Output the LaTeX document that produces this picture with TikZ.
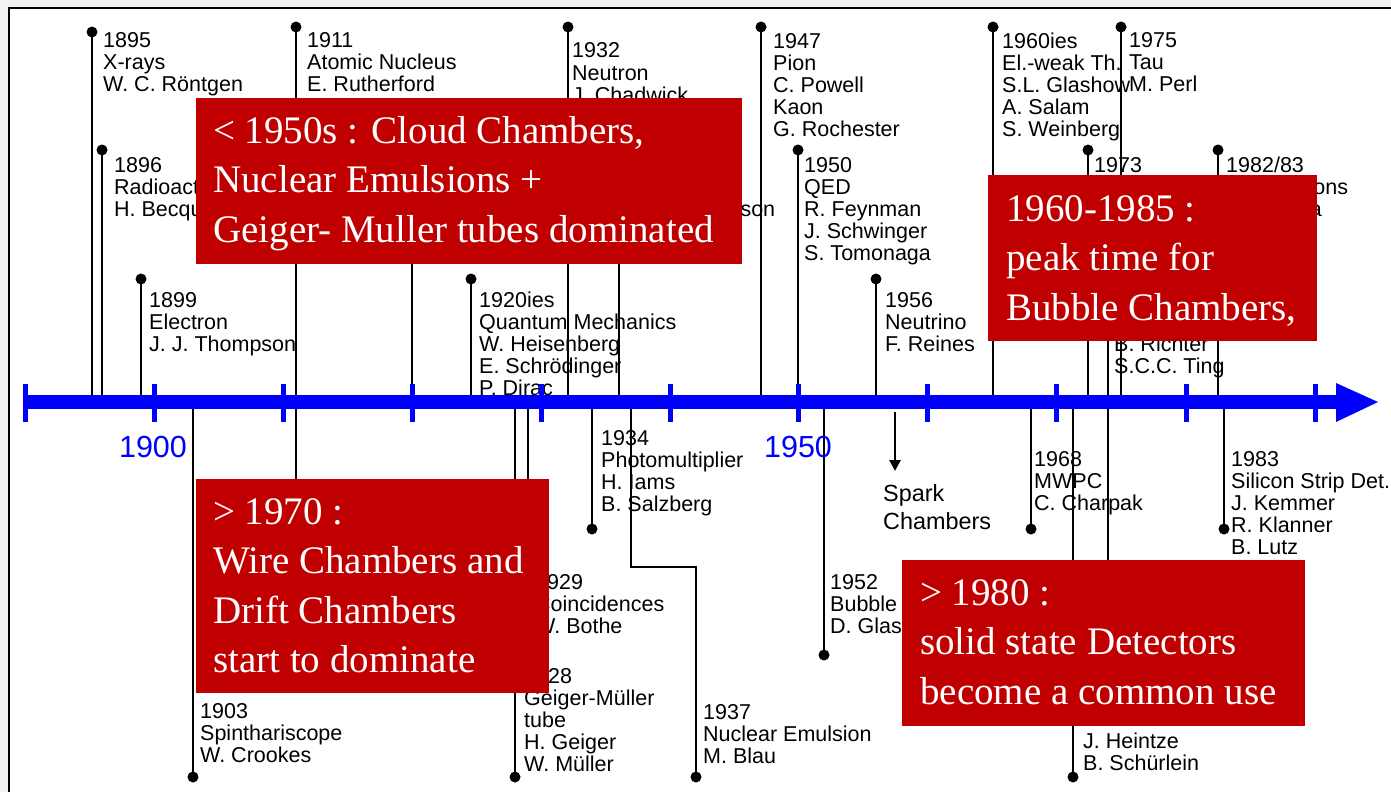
\documentclass[tikz,border=0pt]{standalone}
\usepackage{fontspec}
\setmainfont{Liberation Sans}
\newfontfamily\boxserif{Liberation Serif}
\usetikzlibrary{arrows.meta}
\definecolor{boxred}{RGB}{192,0,0}
\definecolor{axisblue}{RGB}{0,0,255}
\definecolor{margingray}{RGB}{242,242,242}

% text nodes are placed at the baseline of their last line
\tikzset{
  evt/.style={font=\fontsize{21.5}{22}\selectfont, align=left, inner sep=0pt, anchor=base west},
  sparktxt/.style={font=\fontsize{23.4}{28}\selectfont, align=left, inner sep=0pt, anchor=base west},
  yeartxt/.style={font=\fontsize{30.5}{32}\selectfont, text=axisblue, inner sep=0pt, anchor=base},
  boxtxt/.style={font=\boxserif\fontsize{39}{49.5}\selectfont, text=white, align=left, inner sep=0pt, anchor=base west},
  stem/.style={line width=2.6pt},
  dot/.style={circle, fill=black, inner sep=0pt, minimum size=11pt},
  tick/.style={axisblue, line width=5pt},
  redbox/.style={fill=boxred}
}

\begin{document}
\begin{tikzpicture}[x=1pt,y=-1pt]
  \useasboundingbox (0,0) rectangle (1391,792);
  \fill[margingray] (0,0) rectangle (1391,792);
  \fill[white] (9,8) rectangle (1391,792);
  \draw[line width=2.2pt] (9,792) -- (9,8) -- (1391,8);

  % events above the axis
  \node[dot] (d1895) at (92,32) {};    \coordinate (s1895) at (92,402);   \draw[stem] (s1895) -- (d1895.center);
  \node[dot] (d1896) at (102,150) {};  \coordinate (s1896) at (102,402);  \draw[stem] (s1896) -- (d1896.center);
  \node[dot] (d1899) at (141,279) {};  \coordinate (s1899) at (141,402);  \draw[stem] (s1899) -- (d1899.center);
  \node[dot] (d1911) at (296,27) {};   \coordinate (s1911) at (296,402);  \draw[stem] (s1911) -- (d1911.center);
  \node[dot] (d1914) at (412,150) {};  \coordinate (s1914) at (412,402);  \draw[stem] (s1914) -- (d1914.center);
  \node[dot] (d1920) at (471,279) {};  \coordinate (s1920) at (471,402);  \draw[stem] (s1920) -- (d1920.center);
  \node[dot] (d1932) at (568,27) {};   \coordinate (s1932) at (568,402);  \draw[stem] (s1932) -- (d1932.center);
  \node[dot] (d1936) at (619,150) {};  \coordinate (s1936) at (619,402);  \draw[stem] (s1936) -- (d1936.center);
  \node[dot] (d1947) at (761,27) {};   \coordinate (s1947) at (761,402);  \draw[stem] (s1947) -- (d1947.center);
  \node[dot] (d1950) at (798,150) {};  \coordinate (s1950) at (798,402);  \draw[stem] (s1950) -- (d1950.center);
  \node[dot] (d1956) at (876,279) {};  \coordinate (s1956) at (876,402);  \draw[stem] (s1956) -- (d1956.center);
  \node[dot] (d1960) at (993,27) {};   \coordinate (s1960) at (993,402);  \draw[stem] (s1960) -- (d1960.center);
  \node[dot] (d1973) at (1088,150) {}; \coordinate (s1973) at (1088,402); \draw[stem] (s1973) -- (d1973.center);
  \node[dot] (d1974) at (1108,279) {}; \coordinate (s1974) at (1108,402); \draw[stem] (s1974) -- (d1974.center);
  \node[dot] (d1975) at (1121,27) {};  \coordinate (s1975) at (1121,402); \draw[stem] (s1975) -- (d1975.center);
  \node[dot] (d1982) at (1218,150) {}; \coordinate (s1982) at (1218,402); \draw[stem] (s1982) -- (d1982.center);

  \node[evt] (t1895) at (103,92) {1895\\X-rays\\W. C. Röntgen};
  \node[evt] (t1896) at (114,216) {1896\\Radioactivity\\H. Becquerel};
  \node[evt] (t1899) at (149,351) {1899\\Electron\\J. J. Thompson};
  \node[evt] (t1911) at (307,92) {1911\\Atomic Nucleus\\E. Rutherford};
  \node[evt] (t1920) at (479,395) {1920ies\\Quantum Mechanics\\W. Heisenberg\\E. Schrödinger\\P. Dirac};
  \node[evt] (t1932) at (572,102) {1932\\Neutron\\J. Chadwick};
  \node[evt] (t1936) at (628,216) {1936\\Muon\\C. D. Anderson};
  \node[evt] (t1947) at (773,136) {1947\\Pion\\C. Powell\\Kaon\\G. Rochester};
  \node[evt] (t1950) at (804,260) {1950\\QED\\R. Feynman\\J. Schwinger\\S. Tomonaga};
  \node[evt] (t1956) at (885,351) {1956\\Neutrino\\F. Reines};
  \node[evt] (t1960) at (1002,136) {1960ies\\El.-weak Th.\\S.L. Glashow\\A. Salam\\S. Weinberg};
  \node[evt] (t1973) at (1094,172) {1973};
  \node[evt] (t1974) at (1114,373) {B. Richter\\S.C.C. Ting};
  \node[evt] (t1975) at (1129,92) {1975\\Tau\\M. Perl};
  \node[evt] (t1982) at (1226,216) {1982/83\\W, Z Bosons\\C. Rubbia};

  % events below the axis
  \node[dot] (d1903) at (193,777) {};  \coordinate (s1903) at (193,402);  \draw[stem] (s1903) -- (d1903.center);
  \coordinate (s1912) at (296,402); \coordinate (e1912) at (296,640);   \draw[stem] (s1912) -- (e1912);
  \node[dot] (d1928) at (515,777) {};  \coordinate (s1928) at (515,402);  \draw[stem] (s1928) -- (d1928.center);
  \node[dot] (d1929) at (528,655) {};  \coordinate (s1929) at (528,402);  \draw[stem] (s1929) -- (d1929.center);
  \node[dot] (d1934) at (592,529) {};  \coordinate (s1934) at (592,402);  \draw[stem] (s1934) -- (d1934.center);
  \node[dot] (d1937) at (696,777) {};  \coordinate (s1937) at (631,402);  \draw[stem] (s1937) -- (631,567) -- (696,567) -- (d1937.center);
  \node[dot] (d1952) at (824,655) {};  \coordinate (s1952) at (824,402);  \draw[stem] (s1952) -- (d1952.center);
  \coordinate (sspark) at (895,412); \coordinate (espark) at (895,471);
  \draw[stem, -{Triangle[width=11pt,length=11pt]}] (sspark) -- (espark);
  \node[dot] (d1968) at (1031,529) {}; \coordinate (s1968) at (1031,402); \draw[stem] (s1968) -- (d1968.center);
  \node[dot] (d1971) at (1073,777) {}; \coordinate (s1971) at (1073,402); \draw[stem] (s1971) -- (d1971.center);
  \coordinate (s1974b) at (1108,402); \coordinate (e1974b) at (1108,650); \draw[stem] (s1974b) -- (e1974b);
  \node[dot] (d1983) at (1224,529) {}; \coordinate (s1983) at (1224,402); \draw[stem] (s1983) -- (d1983.center);

  \node[evt] (t1903) at (200,762) {1903\\Spinthariscope\\W. Crookes};
  \node[evt] (t1928) at (524,771) {1928\\Geiger-Müller\\tube\\H. Geiger\\W. Müller};
  \node[evt] (t1929) at (535,633) {1929\\Coincidences\\W. Bothe};
  \node[evt] (t1934) at (601,511) {1934\\Photomultiplier\\H. Iams\\B. Salzberg};
  \node[evt] (t1937) at (703,763) {1937\\Nuclear Emulsion\\M. Blau};
  \node[evt] (t1952) at (830,633) {1952\\Bubble Chamber\\D. Glaser};
  \node[sparktxt] (spark) at (883,529) {Spark\\Chambers};
  \node[evt] (t1968) at (1034,510) {1968\\MWPC\\C. Charpak};
  \node[evt] (t1971) at (1083,770) {J. Heintze\\B. Schürlein};
  \node[evt] (t1983) at (1231,554) {1983\\Silicon Strip Det.\\J. Kemmer\\R. Klanner\\B. Lutz};

  % the time axis
  \coordinate (axL) at (25,402); \coordinate (axR) at (1340,402);
  \draw[axisblue, line width=14pt] (axL) -- (axR);
  \fill[axisblue] (1336,383) -- (1378,402) -- (1336,422) -- cycle;
  \draw[tick] (25,384) -- (25,422) (154,384) -- (154,422) (283,384) -- (283,422) (412,384) -- (412,422)
    (541,384) -- (541,422) (670,384) -- (670,422) (798,384) -- (798,422) (927,384) -- (927,422)
    (1056,384) -- (1056,422) (1186,384) -- (1186,422) (1315,384) -- (1315,422);
  \node[yeartxt] (y1900) at (153,457) {1900};
  \node[yeartxt] (y1950) at (798,457) {1950};

  % red boxes on top
  \fill[redbox] (196,98) rectangle (742,264);
  \node[boxtxt] (cloud) at (213,242) {< 1950s : Cloud Chambers,\\Nuclear Emulsions +\\Geiger- Muller tubes dominated};
  \fill[redbox] (196,479) rectangle (549,693);
  \node[boxtxt] (wire) at (213,672.5) {> 1970 :\\Wire Chambers and\\Drift Chambers\\start to dominate};
  \fill[redbox] (988,175) rectangle (1317,341);
  \node[boxtxt] (bubble) at (1006,320) {1960-1985 :\\peak time for\\Bubble Chambers,};
  \fill[redbox] (902,560) rectangle (1305,726);
  \node[boxtxt] (solid) at (920,704) {> 1980 :\\solid state Detectors\\become a common use};
\end{tikzpicture}
\end{document}
